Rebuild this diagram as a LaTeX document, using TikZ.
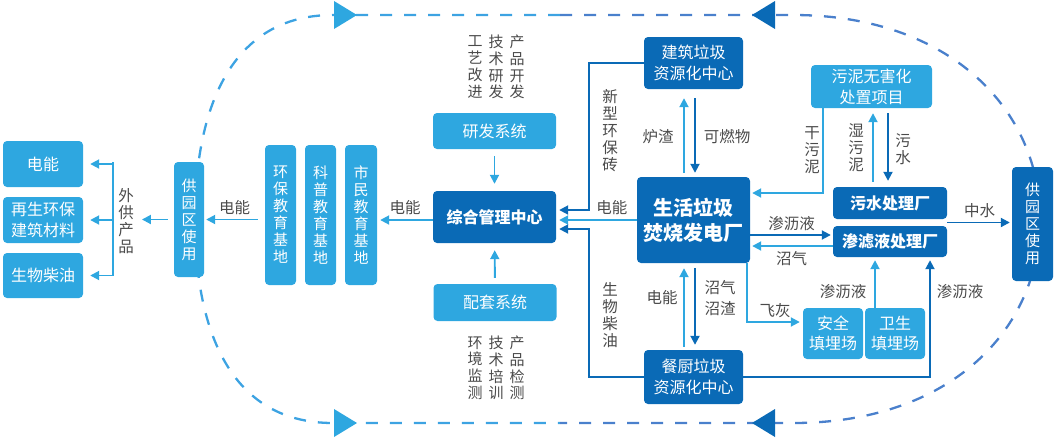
\documentclass[tikz,border=0pt]{standalone}
\usepackage{fontspec}
\setmainfont{Noto Sans CJK SC}
\usetikzlibrary{arrows.meta,calc}
\definecolor{dblue}{HTML}{0A6AB6}
\definecolor{lblue}{HTML}{2EA7E0}
\definecolor{dgray}{HTML}{4A4A4A}
\definecolor{dashl}{HTML}{3DA3E2}
\definecolor{dashr}{HTML}{4A80CC}

\begin{document}
\begin{tikzpicture}[x=1pt,y=-1pt,
		sz/.style 2 args={minimum width=#1pt,minimum height=#2pt},
		gbox/.style={rounded corners=4pt,text=white,inner sep=0pt,align=center,font=\fontsize{16}{21}\selectfont},
		dbox/.style={gbox,fill=dblue},
		lbox/.style={gbox,fill=lblue},
		heavy/.style={font=\fontsize{16}{21}\selectfont\bfseries},
		vtx/.style={font=\fontsize{15}{17}\selectfont},
		lab/.style={text=dgray,inner sep=0pt,align=center,font=\fontsize{15.5}{17}\selectfont},
		col/.style={lab,font=\fontsize{15}{16.7}\selectfont},
		arrd/.style={draw=dblue,line width=1.9pt,-{Triangle[length=9pt,width=9pt]}},
		arrl/.style={draw=lblue,line width=1.9pt,-{Triangle[length=9pt,width=9pt]}},
		loop/.style={line width=2.3pt,dash pattern=on 12pt off 12pt}]
	\useasboundingbox (0,0) rectangle (1056,440);

	% dashed cycle
	\draw[loop,dashl] (560,15) -- (333,15) .. controls (230,15) and (195,110) .. (195,219)
		.. controls (195,330) and (230,423) .. (333,423) -- (560,423);
	\draw[loop,dashr] (560,15) -- (793,15) .. controls (950,15) and (1040,110) .. (1040,219)
		.. controls (1040,330) and (950,423) .. (793,423) -- (560,423);
	\fill[lblue] (357,15) -- (334,1) -- (334,29) -- cycle;
	\fill[dblue] (752,15) -- (775,1) -- (775,29) -- cycle;
	\fill[lblue] (357,423) -- (334,409) -- (334,437) -- cycle;
	\fill[dblue] (752,423) -- (775,409) -- (775,437) -- cycle;

	\node[lbox,sz={80}{46}] (e1) at (43,164) {电能};
	\node[lbox,sz={80}{46}] (e2) at (43,220) {再生环保\\建筑材料};
	\node[lbox,sz={80}{45}] (e3) at (43,275.5) {生物柴油};
	\node[lab] (wg) at (126,221) {外\\供\\产\\品};
	\node[lbox,vtx,sz={30}{115}] (gyl) at (189,219.5) {供\\园\\区\\使\\用};

	\node[lbox,vtx,sz={31}{140}] (jd1) at (280.5,215) {环\\保\\教\\育\\基\\地};
	\node[lbox,vtx,sz={31}{140}] (jd2) at (320.5,215) {科\\普\\教\\育\\基\\地};
	\node[lbox,vtx,sz={32}{140}] (jd3) at (361,215) {市\\民\\教\\育\\基\\地};

	\node[dbox,heavy,sz={123}{52}] (zh) at (494.5,217) {综合管理中心};
	\node[lbox,sz={123}{36}] (yf) at (494.5,131) {研发系统};
	\node[lbox,sz={123}{37}] (pt) at (495,302.5) {配套系统};
	\node[col] (c1) at (475,67) {工\\艺\\改\\进};
	\node[col] (c2) at (496,67) {技\\术\\研\\发};
	\node[col] (c3) at (517,67) {产\\品\\开\\发};
	\node[col] (c4) at (475,368) {环\\境\\监\\测};
	\node[col] (c5) at (496,368) {技\\术\\培\\训};
	\node[col] (c6) at (517,368) {产\\品\\检\\测};

	\node[dbox,sz={99}{52}] (jz) at (693.5,63) {建筑垃圾\\资源化中心};
	\node[dbox,sz={113}{86},font=\fontsize{20}{25}\selectfont\bfseries] (sh) at (693.5,220) {生活垃圾\\焚烧发电厂};
	\node[dbox,sz={99}{54}] (cc) at (693.5,377) {餐厨垃圾\\资源化中心};

	\node[lbox,sz={121}{43}] (wn) at (871.5,86.5) {污泥无害化\\处置项目};
	\node[dbox,heavy,sz={114}{32}] (ws) at (890,203) {污水处理厂};
	\node[dbox,heavy,sz={114}{31}] (sl) at (890,241.5) {渗滤液处理厂};
	\node[lbox,sz={60}{51},font=\fontsize{16}{20}\selectfont] (aq) at (833,333.5) {安全\\填埋场};
	\node[lbox,sz={60}{51},font=\fontsize{16}{20}\selectfont] (wstm) at (895,333.5) {卫生\\填埋场};
	\node[dbox,vtx,sz={41}{114}] (gyr) at (1032.5,224) {供\\园\\区\\使\\用};

	% left side
	\coordinate (brk) at (113,220);
	\draw[draw=lblue,line width=1.9pt] (brk |- e1.east) ++(0,-2) -- (brk |- e3.east);
	\foreach \n in {e1,e2,e3}
		\draw[arrl,shorten >=7pt] (brk |- \n.east) -- (\n.east);
	\draw[arrl,shorten <=6pt,shorten >=8pt] (gyl.west) -- (wg.east |- gyl.west);
	\draw[arrl,shorten <=7pt,shorten >=2pt] (jd1.west |- gyl.east) -- node[lab,above=4pt] {电能} (gyl.east);
	\draw[arrl,shorten >=3pt] (zh.west |- 0,220) -- node[lab,above=4pt] {电能} (jd3.east |- 0,220);
	\draw[arrl,shorten <=7pt,shorten >=7pt] (yf) -- (zh);
	\draw[arrl,shorten <=6pt,shorten >=7pt] (pt) -- (zh);

	% centre
	\coordinate (lx) at (589,0);
	\coordinate (zh1) at ([yshift=7pt]zh.east);
	\coordinate (zh2) at ([yshift=-12pt]zh.east);
	\draw[arrd,shorten >=3pt] (jz.west) -| (lx |- zh1) -- (zh1);
	\draw[arrl,shorten >=3pt] (sh.west) -- node[lab,pos=0.31,above=4pt] {电能} (sh.west -| zh.east);
	\draw[arrd,shorten >=3pt] (cc.west) -| (lx |- zh2) -- (zh2);
	\node[lab] at (610,131) {新\\型\\环\\保\\砖};
	\node[lab] at (610,315) {生\\物\\柴\\油};

	\draw[arrl,shorten <=4pt,shorten >=9pt] ([xshift=-9.5pt]sh.north) -- ([xshift=-9.5pt]sh.north |- jz.south);
	\draw[arrd,shorten <=9pt,shorten >=4pt] ([xshift=1.5pt]sh.north |- jz.south) -- ([xshift=1.5pt]sh.north);
	\node[lab] at (658,137) {炉渣};
	\node[lab] at (727,137) {可燃物};
	\draw[arrl,shorten <=3pt,shorten >=5pt] ([xshift=-9.5pt]cc.north) -- ([xshift=-9.5pt]cc.north |- sh.south);
	\draw[arrd,shorten <=5pt,shorten >=5pt] ([xshift=1.5pt]cc.north |- sh.south) -- ([xshift=1.5pt]cc.north);
	\node[lab] at (662,298) {电能};
	\node[lab] at (720,298.5) {沼气\\[4pt]沼渣};

	% right side
	\draw[arrd,shorten >=2pt] ([yshift=6.5pt]sl.west -| sh.east) -- node[lab,above=3pt] {渗沥液} ([yshift=6.5pt]sl.west);
	\draw[arrl,shorten >=2pt] ([yshift=-4.5pt]sl.west) -- node[lab,below=4pt] {沼气} ([yshift=-4.5pt]sl.west -| sh.east);
	\draw[arrl,shorten >=2pt] ([xshift=-48.5pt]wn.south) |- ([yshift=27pt]sh.east);
	\node[lab] at (812,150) {干\\污\\泥};
	\draw[arrl,shorten <=5pt,shorten >=5pt] ([xshift=1.5pt]wn.south |- ws.north) -- ([xshift=1.5pt]wn.south);
	\draw[arrd,shorten <=5pt,shorten >=6pt] ([xshift=16.5pt]wn.south) -- ([xshift=16.5pt]wn.south |- ws.north);
	\node[lab] at (856,148) {湿\\污\\泥};
	\node[lab] at (903,149) {污\\水};

	\draw[arrl,shorten >=3pt] ([xshift=-3pt]sh.south east) |- node[lab,pos=0.75,above=3pt] {飞灰} ([yshift=11.5pt]aq.west);
	\draw[arrl,shorten >=3pt] ([xshift=-20pt]wstm.north) -- ([xshift=-20pt]wstm.north |- sl.south);
	\node[lab] at (843,292) {渗沥液};
	\draw[arrd,shorten >=3pt] (cc.east) -| ([xshift=40pt]sl.south);
	\node[lab] at (960,292) {渗沥液};

	\coordinate (zs) at ($(ws.south east)!.5!(sl.north east)$);
	\draw[arrd,shorten >=2pt] (zs) -- node[lab,above=4pt] {中水} (zs -| gyr.west);
\end{tikzpicture}
\end{document}
